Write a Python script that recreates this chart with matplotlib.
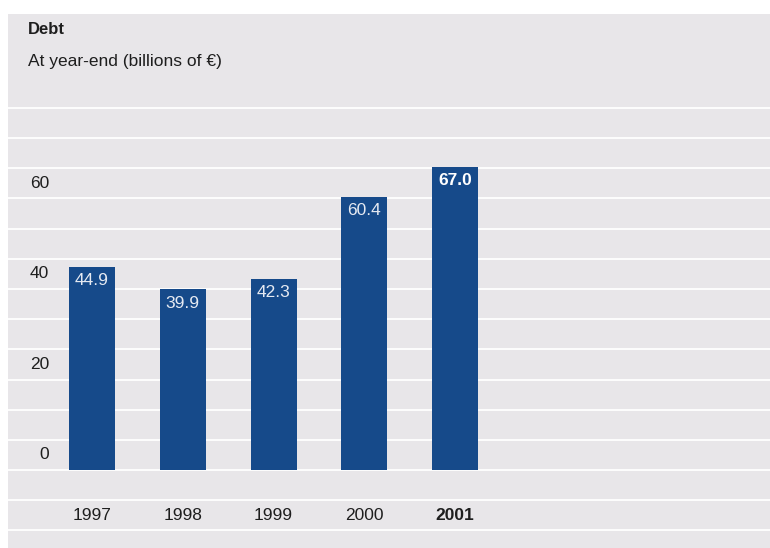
"""Debt at year-end, billions of EUR, bar chart on a striped grey panel."""

import matplotlib

matplotlib.use("Agg")
import matplotlib.pyplot as plt
import numpy as np

years = ["1997", "1998", "1999", "2000", "2001"]
debt = [44.9, 39.9, 42.3, 60.4, 67.0]
value_labels = ["44.9", "39.9", "42.3", "60.4", "67.0"]
y_ticks = [0, 20, 40, 60]

BG = "#E8E6E9"
BAR = "#164A8A"
TEXT = "#1E1E1E"

plt.rcParams["font.family"] = ["Liberation Sans", "DejaVu Sans"]


def main() -> None:
    fig = plt.figure(figsize=(7.7, 5.48), dpi=100, facecolor="white")
    ax = fig.add_axes([8 / 770, 0, 762 / 770, 534 / 548])
    ax.set_facecolor(BG)
    ax.set_xlim(-0.926, 7.471)
    ax.set_ylim(-17.2, 100.7)
    for s in ax.spines.values():
        s.set_visible(False)
    ax.set_xticks([])
    ax.set_yticks([])

    # white stripes every third of 20 units
    step = 20 / 3
    for k in range(-2, 13):
        ax.axhline(k * step, color="white", lw=1.3, zorder=1)

    x = np.arange(len(years))
    ax.bar(x, debt, width=0.507, color=BAR, zorder=2)

    last = len(years) - 1
    for i, (v, lab) in enumerate(zip(debt, value_labels)):
        bold = i == last
        ax.text(i, v - 3.1, lab, ha="center", va="center", fontsize=12.5,
                color="white" if bold else "#E6EAF2",
                fontweight="bold" if bold else "normal", zorder=3)
        ax.text(i, -10, years[i], ha="center", va="center", fontsize=12.5,
                color=TEXT, fontweight="bold" if bold else "normal")

    for t in y_ticks:
        ax.text(-0.474, t + step / 2, str(t), ha="right", va="center",
                fontsize=12.5, color=TEXT)

    fig.text(27.7 / 770, 1 - 30 / 548, "Debt", ha="left", va="center",
             fontsize=12, fontweight="bold", color=TEXT)
    fig.text(27.7 / 770, 1 - 61.5 / 548, "At year-end (billions of €)",
             ha="left", va="center", fontsize=12.5, color=TEXT)

    fig.savefig("out.png", dpi=100, facecolor="white")


if __name__ == "__main__":
    main()
